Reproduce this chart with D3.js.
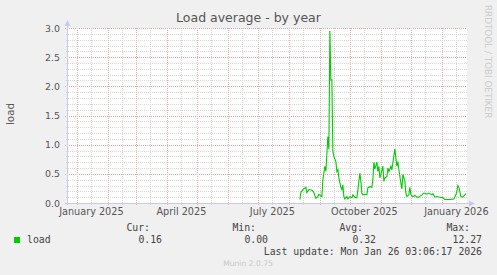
<!DOCTYPE html>
<html>
<head>
<meta charset="utf-8">
<script src="https://cdn.jsdelivr.net/npm/d3@7/dist/d3.min.js"></script>
<style>
  html, body { margin: 0; padding: 0; background: #f0f0f0; }
  svg { display: block; }
</style>
</head>
<body>
<div id="chart"></div>
<script>
// load average samples
var dates = [
  '2025-08-12','2025-08-13','2025-08-15','2025-08-18','2025-08-19','2025-08-21','2025-08-24','2025-08-26',
  '2025-08-28','2025-08-30','2025-08-31','2025-09-03','2025-09-04','2025-09-06','2025-09-07','2025-09-09',
  '2025-09-10','2025-09-11','2025-09-12','2025-09-13','2025-09-14','2025-09-15','2025-09-17','2025-09-18',
  '2025-09-19','2025-09-20','2025-09-22','2025-09-23','2025-09-24','2025-09-25','2025-09-26','2025-09-28',
  '2025-09-29','2025-10-01','2025-10-03','2025-10-04','2025-10-06','2025-10-08','2025-10-09','2025-10-11',
  '2025-10-12','2025-10-13','2025-10-14','2025-10-16','2025-10-18','2025-10-19','2025-10-21','2025-10-23',
  '2025-10-24','2025-10-25','2025-10-26','2025-10-28','2025-10-29','2025-10-30','2025-10-31','2025-11-01',
  '2025-11-03','2025-11-04','2025-11-05','2025-11-07','2025-11-08','2025-11-09','2025-11-11','2025-11-12',
  '2025-11-13','2025-11-15','2025-11-16','2025-11-17','2025-11-18','2025-11-19','2025-11-21','2025-11-22',
  '2025-11-23','2025-11-25','2025-11-26','2025-11-27','2025-11-29','2025-11-30','2025-12-01','2025-12-03',
  '2025-12-05','2025-12-07','2025-12-09','2025-12-12','2025-12-14','2025-12-17','2025-12-19','2025-12-22',
  '2025-12-23','2025-12-25','2025-12-27','2025-12-30','2026-01-02','2026-01-04','2026-01-09','2026-01-13',
  '2026-01-15','2026-01-16','2026-01-17','2026-01-18','2026-01-20','2026-01-22','2026-01-24','2026-01-25'
];
var load = [
  0.06,0.18,0.23,0.27,0.18,0.23,0.22,0.18,
  0.08,0.11,0.15,0.11,0.40,0.63,0.54,1.14,
  0.92,2.95,2.11,2.11,0.88,0.80,0.71,0.54,
  0.57,0.43,0.27,0.23,0.31,0.11,0.07,0.11,
  0.07,0.11,0.09,0.14,0.10,0.09,0.23,0.51,
  0.37,0.17,0.14,0.15,0.14,0.26,0.28,0.27,
  0.40,0.70,0.58,0.70,0.54,0.63,0.43,0.49,
  0.63,0.37,0.43,0.45,0.60,0.54,0.63,0.57,
  0.69,0.93,0.77,0.63,0.71,0.57,0.34,0.24,
  0.49,0.37,0.17,0.11,0.14,0.27,0.14,0.11,
  0.13,0.10,0.10,0.14,0.17,0.15,0.17,0.14,
  0.16,0.10,0.11,0.10,0.09,0.06,0.06,0.07,
  0.14,0.20,0.30,0.27,0.11,0.10,0.14,0.16
];

var yTicks = [0, 0.5, 1.0, 1.5, 2.0, 2.5, 3.0];
var xLabelDates = ['2025-01-15','2025-04-15','2025-07-15','2025-10-15','2026-01-15'];
var legendHeads = ['Cur:', 'Min:', 'Avg:', 'Max:'];
var legendVals = ['0.16', '0.00', '0.32', '12.27'];

(function(){
  'use strict';

  var W = 497, H = 275;
  var left = 67, right = 467, top = 28, bottom = 203;
  var parse = d3.utcParse('%Y-%m-%d');
  var sans = 'DejaVu Sans, sans-serif';
  var mono = 'DejaVu Sans Mono, monospace';

  var svg = d3.select('#chart').append('svg')
    .attr('width', W).attr('height', H);

  svg.append('rect').attr('width', W).attr('height', H).attr('fill', '#f0f0f0');

  // 400 days window ending at last update
  var end = d3.utcParse('%Y-%m-%d %H:%M')('2026-01-26 03:06');
  var start = d3.utcDay.offset(end, -400);

  var x = d3.scaleUtc().domain([start, end]).range([left, right]);
  var y = d3.scaleLinear().domain([0, 3]).range([bottom, top]);

  svg.append('rect')
    .attr('x', left).attr('y', top)
    .attr('width', right - left).attr('height', bottom - top)
    .attr('fill', '#ffffff');

  var grid = svg.append('g').attr('shape-rendering', 'crispEdges');

  // minor grid
  var minorY = d3.range(1, 30).filter(function(i){ return i % 5 !== 0; }).map(function(i){ return i / 10; });
  grid.selectAll('line.hy').data(minorY).enter().append('line')
    .attr('x1', left - 1).attr('x2', right)
    .attr('y1', function(d){ return Math.round(y(d)) + 0.5; })
    .attr('y2', function(d){ return Math.round(y(d)) + 0.5; })
    .attr('stroke', '#d8d8d8').attr('stroke-dasharray', '1,1');

  var months = d3.utcMonth.range(start, end);
  var mids = months.map(function(m){ return d3.utcDay.offset(m, 14); }).filter(function(d){ return d < end; });
  grid.selectAll('line.vx').data(mids).enter().append('line')
    .attr('x1', function(d){ return Math.round(x(d)) + 0.5; })
    .attr('x2', function(d){ return Math.round(x(d)) + 0.5; })
    .attr('y1', top).attr('y2', bottom + 2)
    .attr('stroke', '#d8d8d8').attr('stroke-dasharray', '1,1');

  // major grid
  grid.selectAll('line.my').data(yTicks.slice(1)).enter().append('line')
    .attr('x1', left - 2).attr('x2', right)
    .attr('y1', function(d){ return Math.round(y(d)) + 0.5; })
    .attr('y2', function(d){ return Math.round(y(d)) + 0.5; })
    .attr('stroke', '#eca0a0').attr('stroke-dasharray', '1,1');

  grid.selectAll('line.mx').data(months).enter().append('line')
    .attr('x1', function(d){ return Math.round(x(d)) + 0.5; })
    .attr('x2', function(d){ return Math.round(x(d)) + 0.5; })
    .attr('y1', top).attr('y2', bottom + 3)
    .attr('stroke', '#f0b4b4').attr('stroke-dasharray', '1,1');

  // axes
  var yAxis = d3.axisLeft(y).tickValues(yTicks).tickFormat(d3.format('.1f')).tickSize(0).tickPadding(7);
  var gy = svg.append('g').attr('transform', 'translate(' + left + ',0)').call(yAxis);
  gy.select('.domain').remove();
  gy.selectAll('text').attr('font-family', sans).attr('font-size', '9.4px').attr('fill', '#555');

  var xAxis = d3.axisBottom(x).tickValues(xLabelDates.map(parse))
    .tickFormat(d3.utcFormat('%B %Y')).tickSize(0).tickPadding(5);
  var gx = svg.append('g').attr('transform', 'translate(0,' + bottom + ')').call(xAxis);
  gx.select('.domain').remove();
  gx.selectAll('text').attr('font-family', sans).attr('font-size', '9.7px').attr('fill', '#555');

  var axisCol = '#c8c8f4';
  svg.append('line').attr('x1', left + 0.5).attr('x2', left + 0.5).attr('y1', bottom + 2).attr('y2', top - 4)
    .attr('stroke', axisCol);
  svg.append('path').attr('d', 'M' + (left - 2.5) + ',' + (top - 2) + 'L' + (left + 0.5) + ',' + (top - 8) + 'L' + (left + 3.5) + ',' + (top - 2) + 'Z')
    .attr('fill', axisCol);
  svg.append('line').attr('x1', left - 2).attr('x2', right + 4).attr('y1', bottom + 0.5).attr('y2', bottom + 0.5)
    .attr('stroke', axisCol);
  svg.append('path').attr('d', 'M' + (right + 2) + ',' + (bottom - 2.5) + 'L' + (right + 8) + ',' + (bottom + 0.5) + 'L' + (right + 2) + ',' + (bottom + 3.5) + 'Z')
    .attr('fill', axisCol);

  // series
  var pts = dates.map(function(d, i){ return { t: parse(d), v: load[i] }; });
  var line = d3.line().x(function(d){ return x(d.t); }).y(function(d){ return y(d.v); });
  svg.append('path').datum(pts)
    .attr('d', line)
    .attr('fill', 'none').attr('stroke', '#00cc00').attr('stroke-width', 1.1);

  // title + labels
  svg.append('text').attr('x', W / 2).attr('y', 22).attr('text-anchor', 'middle')
    .attr('font-family', sans).attr('font-size', '12.5px').attr('fill', '#555')
    .text('Load average - by year');

  svg.append('text').attr('transform', 'translate(14,114) rotate(-90)').attr('text-anchor', 'middle')
    .attr('font-family', sans).attr('font-size', '10.3px').attr('fill', '#555')
    .text('load');

  svg.append('text').attr('transform', 'translate(485,5) rotate(90)')
    .attr('font-family', sans).attr('font-size', '8.8px').attr('fill', '#cdcdcd')
    .text('RRDTOOL / TOBI OETIKER');

  // legend
  svg.append('rect').attr('x', 14).attr('y', 237).attr('width', 6).attr('height', 6).attr('fill', '#00cc00');
  svg.append('text').attr('x', 27).attr('y', 243)
    .attr('font-family', mono).attr('font-size', '9.8px').attr('fill', '#444').text('load');

  var headX = [150, 256, 363, 470];
  var valX = [162, 268, 376, 482];
  svg.selectAll('text.lh').data(legendHeads).enter().append('text')
    .attr('x', function(d, i){ return headX[i]; }).attr('y', 231).attr('text-anchor', 'end')
    .attr('font-family', mono).attr('font-size', '9.8px').attr('fill', '#444')
    .text(function(d){ return d; });
  svg.selectAll('text.lv').data(legendVals).enter().append('text')
    .attr('x', function(d, i){ return valX[i]; }).attr('y', 243).attr('text-anchor', 'end')
    .attr('font-family', mono).attr('font-size', '9.8px').attr('fill', '#444')
    .text(function(d){ return d; });

  svg.append('text').attr('x', 482).attr('y', 255).attr('text-anchor', 'end')
    .attr('font-family', mono).attr('font-size', '9.8px').attr('fill', '#444')
    .text('Last update: Mon Jan 26 03:06:17 2026');

  svg.append('text').attr('x', 248).attr('y', 266).attr('text-anchor', 'middle')
    .attr('font-family', sans).attr('font-size', '7.6px').attr('fill', '#c8c8c8')
    .text('Munin 2.0.75');

})();
</script>
</body>
</html>
